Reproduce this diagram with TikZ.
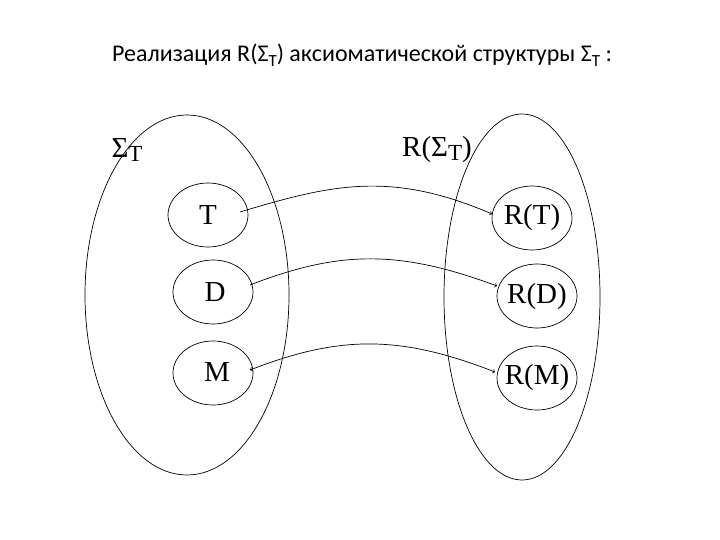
\documentclass[tikz,border=0pt]{standalone}
\usepackage{fontspec}
\setmainfont{Liberation Serif}
\newfontfamily\titlefont{Carlito}
\begin{document}
\begin{tikzpicture}[x=1pt,y=-1pt,
  lbl/.style={font=\fontsize{29}{32}\selectfont},
  conn/.style={line width=0.7pt,-to}]
\useasboundingbox (0,0) rectangle (720,540);
\node[font=\titlefont\fontsize{24}{28}\selectfont] (title) at (362,55) {Реализация R(Σ\raisebox{-0.4ex}{\fontsize{17}{18}\selectfont T}) аксиоматической структуры Σ\raisebox{-0.4ex}{\fontsize{17}{18}\selectfont T} :};
\draw[line width=0.7pt] (187,295) ellipse [x radius=102, y radius=180];
\draw[line width=0.7pt] (522,297) ellipse [x radius=78, y radius=183];
\node[lbl] (sl) at (127,150) {Σ\raisebox{-0.3ex}{\fontsize{23}{25}\selectfont T}};
\node[lbl] (sr) at (437,150) {R(Σ\raisebox{-0.3ex}{\fontsize{23}{25}\selectfont T})};
\draw[line width=0.7pt] (208,215) ellipse [x radius=40, y radius=32];
\draw[line width=0.7pt] (213,292) ellipse [x radius=40, y radius=32];
\draw[line width=0.7pt] (213,373) ellipse [x radius=40, y radius=32];
\draw[line width=0.7pt] (532,218) ellipse [x radius=40, y radius=32];
\draw[line width=0.7pt] (537,296) ellipse [x radius=40, y radius=32];
\draw[line width=0.7pt] (537,378) ellipse [x radius=40, y radius=32];
\node[lbl] (t) at (208,215) {T};
\node[lbl] (d) at (215,292) {D};
\node[lbl] (m) at (217,372) {M};
\node[lbl] (rt) at (532,218) {R(T)};
\node[lbl] (rd) at (537,297) {R(D)};
\node[lbl] (rm) at (537,378) {R(M)};
\coordinate (t1) at (240,212); \coordinate (t2) at (492,214);
\coordinate (d1) at (250,285); \coordinate (d2) at (497,286);
\coordinate (m1) at (250,370); \coordinate (m2) at (495,372);
\draw[conn] (t1) .. controls (330,185) and (390,170) .. (t2);
\draw[conn] (d1) .. controls (340,250) and (400,250) .. (d2);
\draw[conn,to-to] (m1) .. controls (340,335) and (400,335) .. (m2);
\end{tikzpicture}
\end{document}
